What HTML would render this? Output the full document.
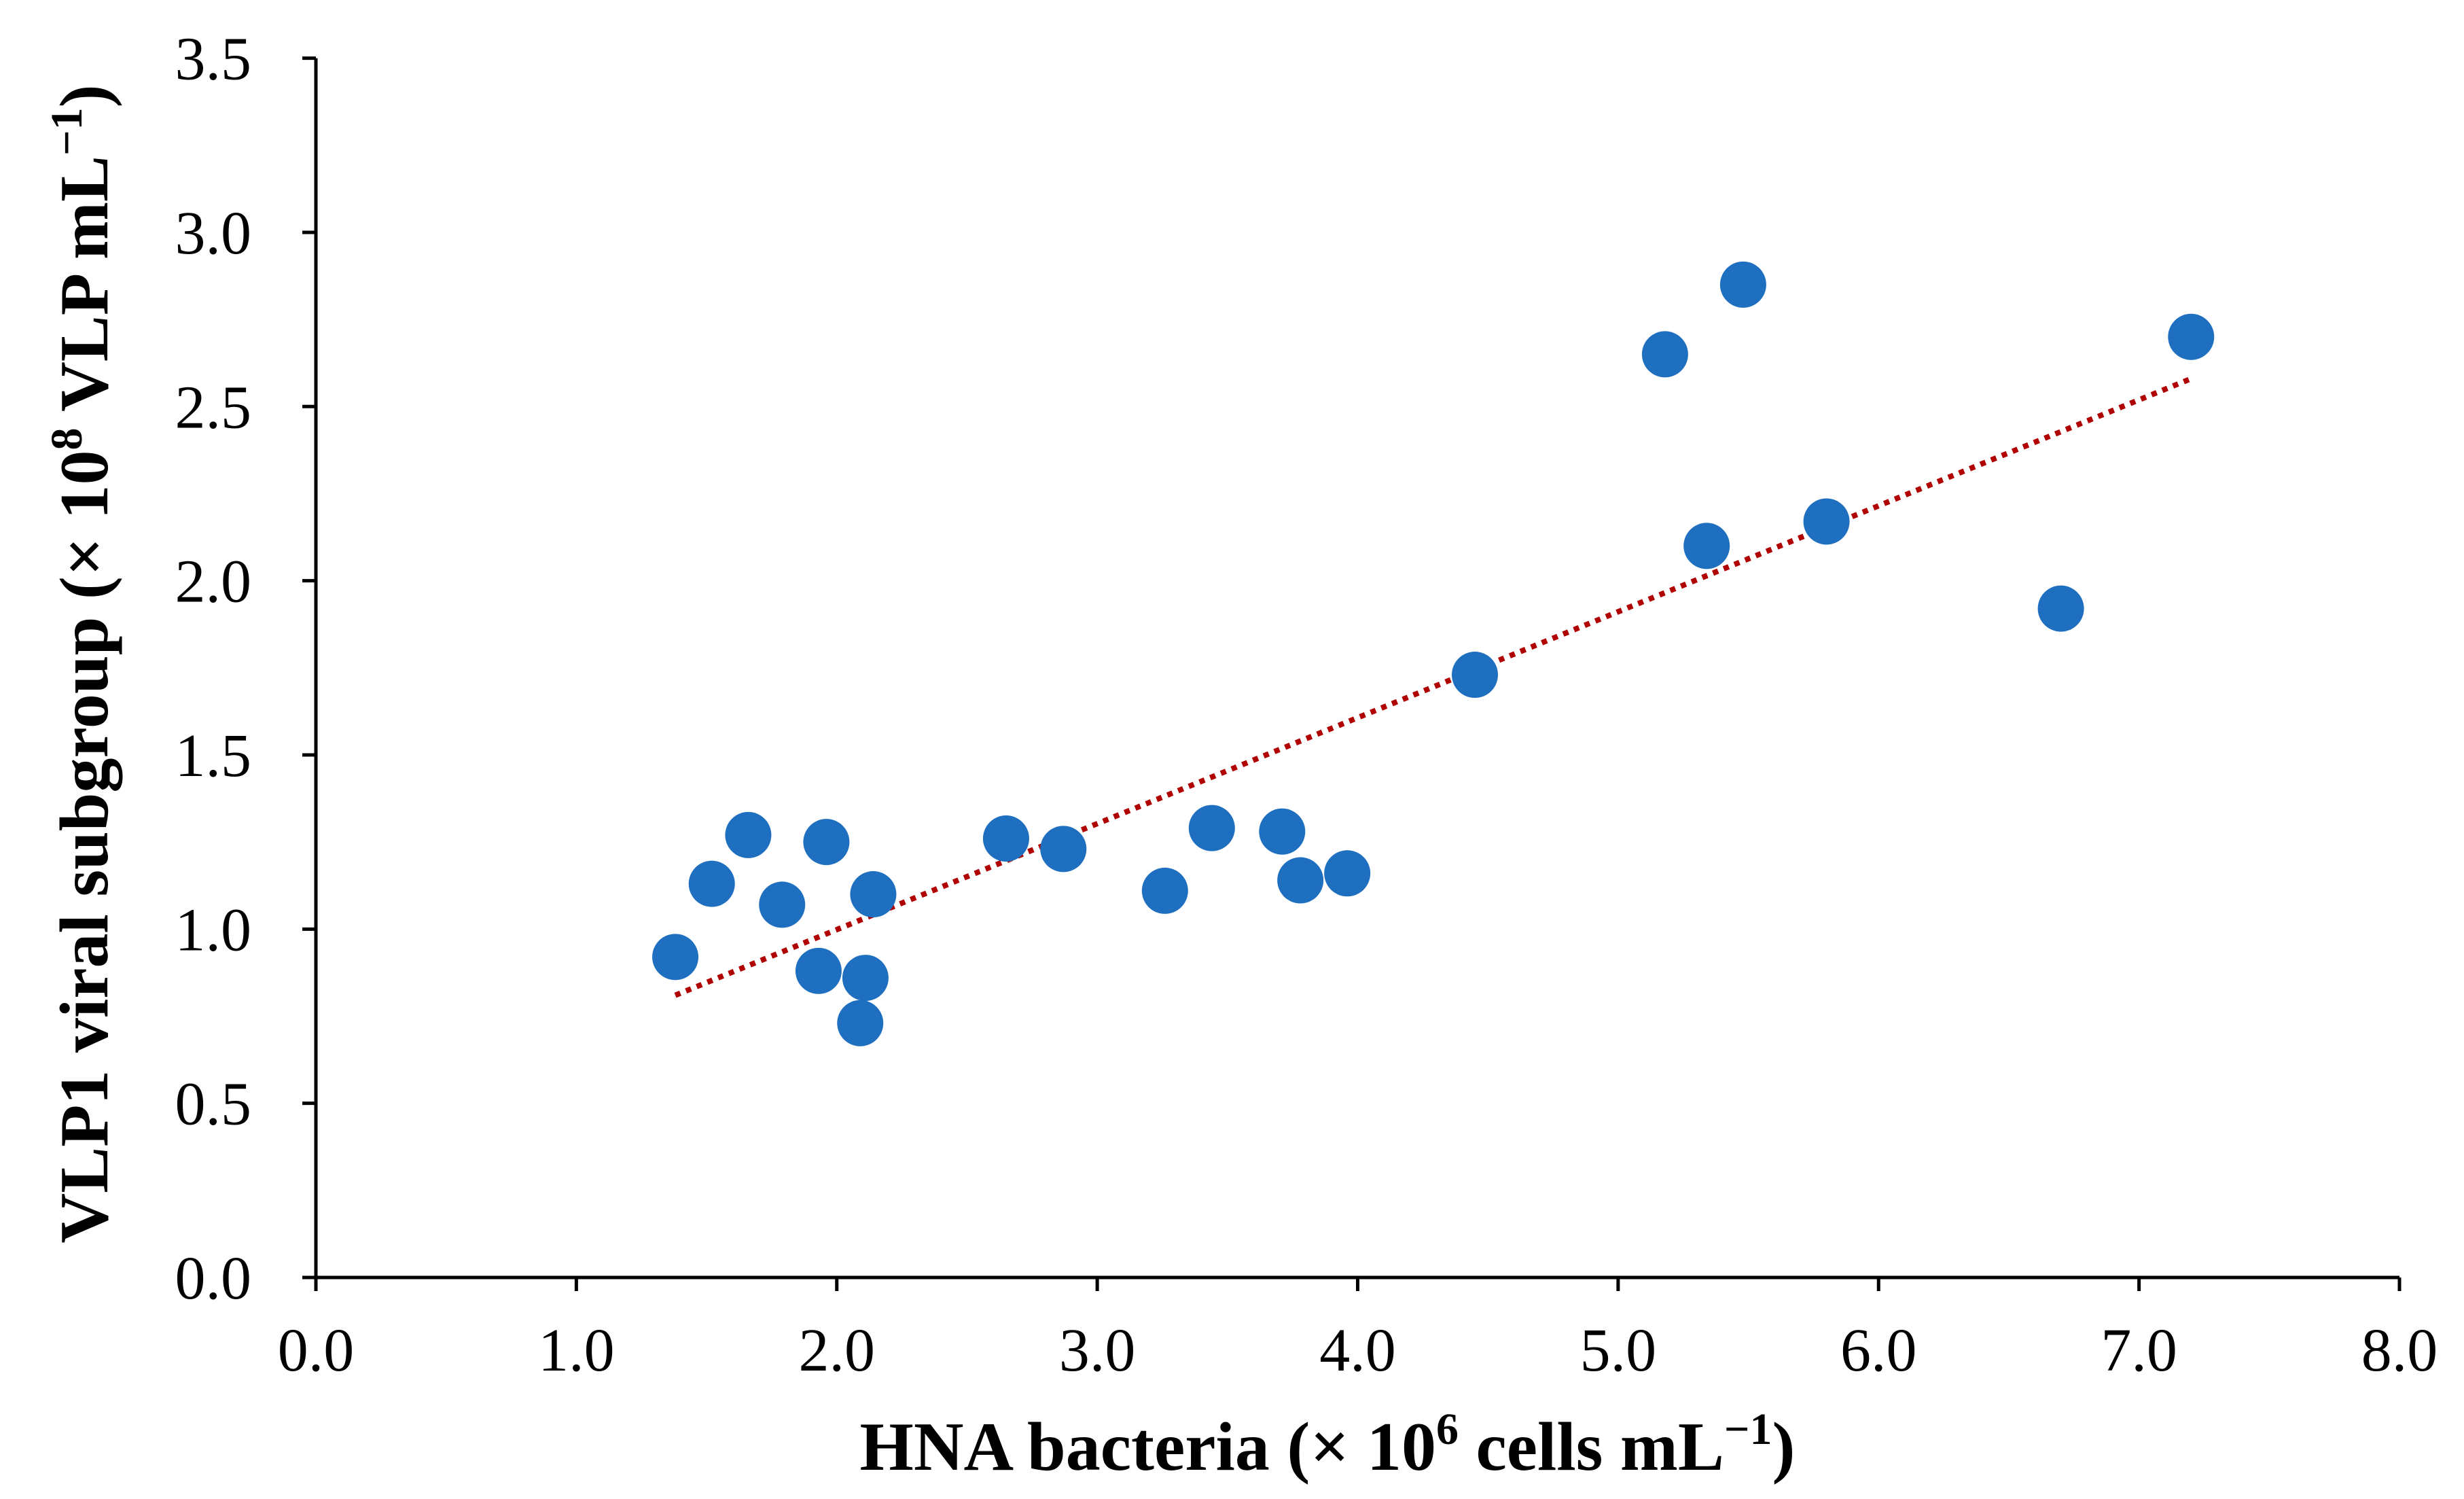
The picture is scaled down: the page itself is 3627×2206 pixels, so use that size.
<!DOCTYPE html>
<html><head><meta charset="utf-8"><style>
html,body{margin:0;padding:0;background:#fff;}
svg{display:block;}
text{font-family:"Liberation Serif",serif;fill:#000;}
</style></head><body>
<svg id="chart" width="3627" height="2206" viewBox="0 0 3627 2206" xmlns="http://www.w3.org/2000/svg">
<g id="axes"></g>
<g id="trend"></g>
<g id="points"></g>
<text x="1954" y="2163" text-anchor="middle" font-size="102" font-weight="bold">HNA bacteria (× 10<tspan dy="-38" font-size="66">6</tspan><tspan dy="38"> cells mL</tspan><tspan dy="-38" font-size="66">−1</tspan><tspan dy="38">)</tspan></text>
<text transform="translate(158,977) rotate(-90)" text-anchor="middle" font-size="102" font-weight="bold">VLP1 viral subgroup  (× 10<tspan dy="-38" font-size="66">8</tspan><tspan dy="38"> VLP mL</tspan><tspan dy="-38" font-size="66">−1</tspan><tspan dy="38">)</tspan></text>
</svg>
<script>
const xTicks = [0,1,2,3,4,5,6,7,8];
const yTicks = [0,0.5,1.0,1.5,2.0,2.5,3.0,3.5];
const xValues = [1.38,1.52,1.66,1.79,1.93,1.96,2.09,2.11,2.14,2.65,2.87,3.26,3.44,3.71,3.78,3.96,4.45,5.18,5.34,5.48,5.80,6.70,7.20];
const yValues = [0.92,1.13,1.27,1.07,0.88,1.25,0.73,0.86,1.10,1.26,1.23,1.11,1.29,1.28,1.14,1.16,1.73,2.65,2.10,2.85,2.17,1.92,2.70];
const trendX = [1.38,7.20];
const trendY = [0.81,2.58];

const X0=465,X1=3532,Y0=1880,Y1=85.6;
const xS=v=>X0+(v-0)/(8-0)*(X1-X0);
const yS=v=>Y0-(v-0)/(3.5-0)*(Y0-Y1);
const NS="http://www.w3.org/2000/svg";
function mk(tag,attrs,parent){const e=document.createElementNS(NS,tag);for(const k in attrs)e.setAttribute(k,attrs[k]);parent.appendChild(e);return e;}
const axes=document.getElementById('axes');
let l=mk('line',{x1:X0,y1:Y1,x2:X0,y2:Y0,stroke:'#000','stroke-width':5},axes);


l=mk('line',{x1:X0-20,y1:Y0,x2:X1,y2:Y0,stroke:'#000','stroke-width':5},axes);


xTicks.forEach(v=>{
  const t=mk('line',{x1:xS(v),y1:Y0,x2:xS(v),y2:Y0+20,stroke:'#000','stroke-width':5},axes);
  
  
  const tx=mk('text',{x:xS(v),y:2017,'text-anchor':'middle','font-size':90},axes);
  tx.textContent=v.toFixed(1);
  
  
});
yTicks.forEach(v=>{
  const t=mk('line',{x1:X0-20,y1:yS(v),x2:X0,y2:yS(v),stroke:'#000','stroke-width':5},axes);
  
  
  const tx=mk('text',{x:X0-95,y:yS(v)+31,'text-anchor':'end','font-size':90},axes);
  tx.textContent=v.toFixed(1);
  
  
});
const tr=document.getElementById('trend');
const tl=mk('line',{x1:xS(trendX[0]),y1:yS(trendY[0]),x2:xS(trendX[1]),y2:yS(trendY[1]),stroke:'#B00000','stroke-width':8,'stroke-dasharray':'8 9'},tr);


const pts=document.getElementById('points');
xValues.forEach((x,i)=>{
  const c=mk('circle',{cx:xS(x),cy:yS(yValues[i]),r:34,fill:'#1F6FC0'},pts);
  
  
});
</script>
</body></html>
